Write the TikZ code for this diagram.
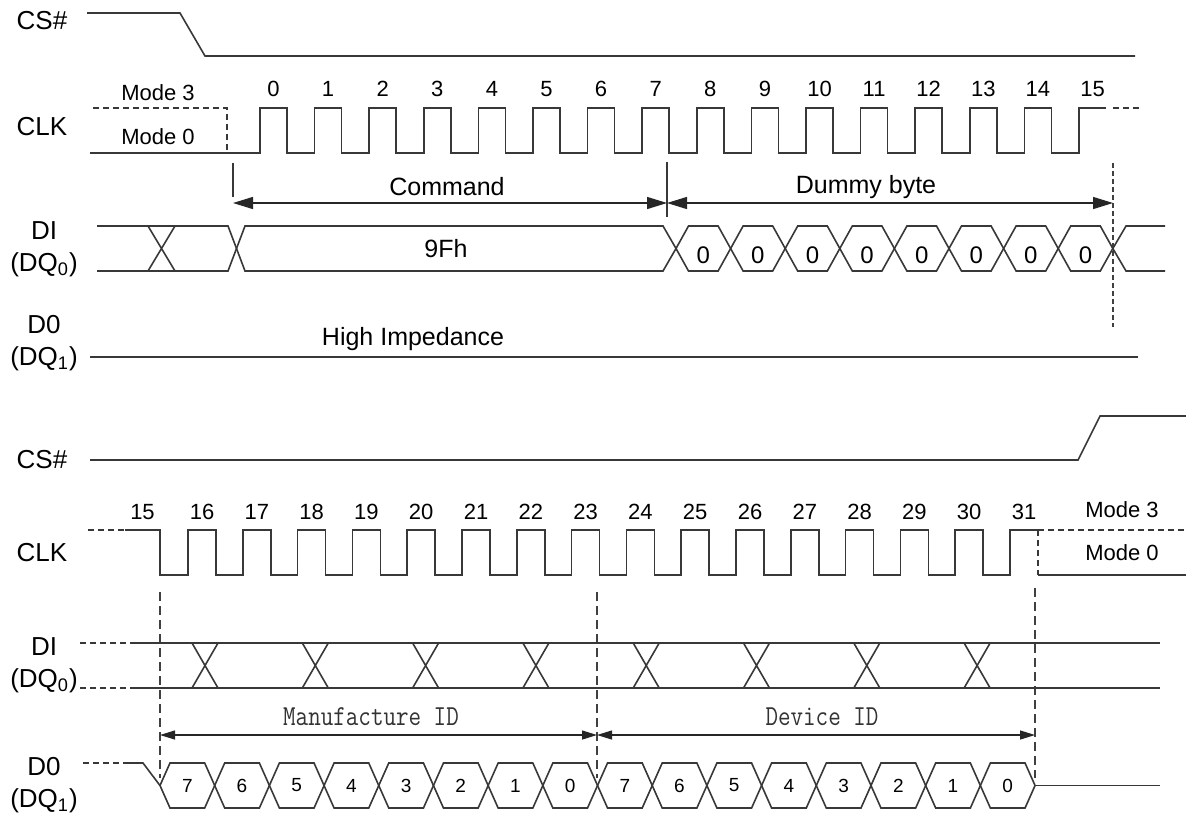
\documentclass[tikz,border=0pt]{standalone}
\usepackage{fontspec}
\setmainfont{Liberation Sans}
\usetikzlibrary{arrows.meta}

\begin{document}
\begin{tikzpicture}[x=0.5pt,y=-0.5pt]
\tikzset{sig/.style={draw=black!78,line width=0.8pt}}
\tikzset{dsig/.style={sig,dash pattern=on 3pt off 2pt}}
\tikzset{guide/.style={draw=black!75,line width=0.75pt,dash pattern=on 4.5pt off 2.5pt}}
\tikzset{span/.style={draw=black!85,line width=0.7pt,{Triangle[length=10pt,width=6pt]}-{Triangle[length=10pt,width=6pt]}}}
\tikzset{sspan/.style={draw=black!85,line width=0.6pt,{Triangle[length=7.5pt,width=4.5pt]}-{Triangle[length=7.5pt,width=4.5pt]}}}
\tikzset{sname/.style={font=\fontsize{13}{16}\selectfont,align=center,inner sep=0pt}}
\tikzset{mode/.style={font=\fontsize{11}{12}\selectfont,inner sep=0pt}}
\tikzset{tick/.style={font=\fontsize{11}{12}\selectfont,inner sep=0pt}}
\tikzset{lbl/.style={font=\fontsize{12.5}{14}\selectfont,inner sep=0pt}}
\tikzset{bit/.style={font=\fontsize{12}{12}\selectfont,inner sep=0pt}}
\tikzset{sbit/.style={font=\fontsize{9.5}{10}\selectfont,inner sep=0pt}}
\tikzset{idlbl/.style={font=\ttfamily\fontsize{14.5}{15}\selectfont,text=black!80,inner sep=0pt}}

\useasboundingbox (0,0) rectangle (1186,814);

% first half
\node[sname] (cs1) at (42,21) {CS\#};
\draw[sig] (87,13) -- (180,13) -- (205,56) -- (1135,56);

\node[sname] (clk1) at (42,127) {CLK};
\node[mode] (m3a) at (158,93) {Mode 3};
\node[mode] (m0a) at (158,137) {Mode 0};
\draw[dsig] (93,108) -- (227,108) -- (227,153);
\draw[sig] (90,153) -- (260,153)
  \foreach \n in {0,...,14} {-- ++(0,-45) -- ++(27,0) -- ++(0,45) -- ++(27.6,0)}
  -- ++(0,-45) -- ++(27,0);
\draw[dsig] (1113,108) -- (1140,108);
\foreach \n in {0,...,15}
  \node[tick] (ua\n) at (273.5+54.6*\n,89) {\n};

\coordinate (cmdL) at (233,203);
\coordinate (cmdR) at (667,203);
\coordinate (dumR) at (1113,203);
\draw[sig,line width=0.7pt] (233,163) -- (233,197);
\draw[sig,line width=0.7pt] (667,162) -- (667,217);
\draw[guide,dash pattern=on 2.5pt off 1.5pt] (1113,163) -- (1113,327);
\draw[span] (cmdL) -- (cmdR);
\draw[span] (cmdR) -- (dumR);
\node[lbl] (cmd) at (447,187) {Command};
\node[lbl] (dum) at (866,187) {Dummy byte};

\node[sname] (di1) at (44,249) {DI\\(DQ\textsubscript{0})};
\draw[sig] (97,226) -- (228,226) -- (245,271) -- (663,271) -- (676,248.5);
\draw[sig] (97,271) -- (228,271) -- (245,226) -- (663,226) -- (676,248.5);
\draw[sig] (148,226) -- (175,271) (148,271) -- (175,226);
\node[lbl] (opc) at (446,249) {9Fh};
\foreach \k in {0,...,7} {
  \draw[sig] (676+54.6*\k,248.5) -- ++(12.5,-22.5) -- ++(29.6,0) -- ++(12.5,22.5)
    -- ++(-12.5,22.5) -- ++(-29.6,0) -- cycle;
  \node[bit] (db\k) at (703.3+54.6*\k,255) {0};
}
\draw[sig] (1112.8,248.5) -- (1126,226) -- (1165,226);
\draw[sig] (1112.8,248.5) -- (1126,271) -- (1165,271);

\node[sname] (do1) at (44,343) {D0\\(DQ\textsubscript{1})};
\draw[sig] (90,357) -- (1138,357);
\node[lbl] (hiz) at (413,339) {High Impedance};

% second half
\node[sname] (cs2) at (42,460) {CS\#};
\draw[sig] (90,460) -- (1078,460) -- (1100,416) -- (1186,416);

\node[sname] (clk2) at (42,553) {CLK};
\draw[dsig] (88,530) -- (125,530);
\draw[sig] (125,530) -- (160,530) -- (160,575) -- (188,575)
  \foreach \n in {16,...,30} {-- ++(0,-45) -- ++(28,0) -- ++(0,45) -- ++(26.8,0)}
  -- ++(0,-45) -- ++(28,0);
\draw[dsig] (1038,530) -- (1186,530) (1038,530) -- (1038,575);
\draw[sig] (1038,575) -- (1186,575);
\node[tick] (lb15) at (142.5,512) {15};
\foreach \n in {16,...,31}
  \node[tick] (lb\n) at (54.8*\n-674.8,512) {\n};
\node[mode] (m3b) at (1122,510) {Mode 3};
\node[mode] (m0b) at (1122,553) {Mode 0};

\draw[guide] (160,592) -- (160,778);
\draw[guide] (597,592) -- (597,778);
\draw[guide] (1035,588) -- (1035,778);

\node[sname] (di2) at (44,665) {DI\\(DQ\textsubscript{0})};
\draw[dsig] (80,643) -- (130,643) (80,688) -- (130,688);
\draw[sig] (130,643) -- (1160,643) (130,688) -- (1160,688);
\foreach \k in {0,...,7}
  \draw[sig] (192+110.3*\k,643) -- ++(26,45) ++(-26,0) -- ++(26,-45);

\coordinate (mfL) at (160,735);
\coordinate (mfR) at (597,735);
\coordinate (devR) at (1035,735);
\draw[sspan] (mfL) -- (mfR);
\draw[sspan] (mfR) -- (devR);
\node[idlbl] (mfid) at (371,717) {\scalebox{0.84}[1]{Manufacture ID}};
\node[idlbl] (devid) at (822,717) {\scalebox{0.84}[1]{Device ID}};

\node[sname] (do2) at (44,785) {D0\\(DQ\textsubscript{1})};
\draw[dsig] (83,763) -- (125,763);
\draw[sig] (125,763) -- (143,763) -- (160,785.5);
\foreach \b [count=\k from 0] in {7,6,5,4,3,2,1,0,7,6,5,4,3,2,1,0} {
  \draw[sig] (160+54.69*\k,785.5) -- ++(10,-22.5) -- ++(34.69,0) -- ++(10,22.5)
    -- ++(-10,22.5) -- ++(-34.69,0) -- cycle;
  \node[sbit] (ob\k) at (187.3+54.69*\k,785.5) {\b};
}
\draw[sig] (1035,785.5) -- (1160,785.5);
\end{tikzpicture}
\end{document}
